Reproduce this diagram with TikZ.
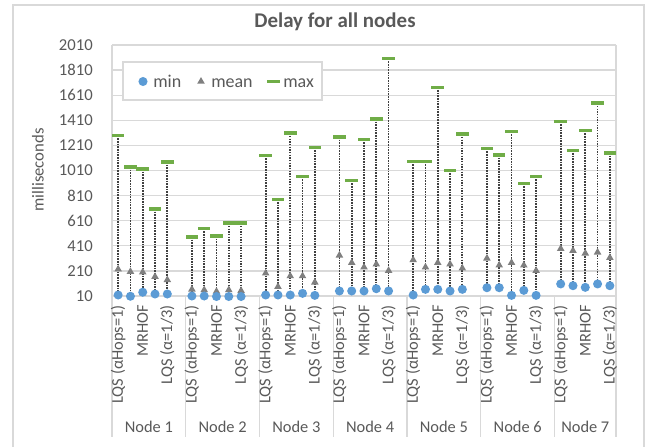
\documentclass[tikz,border=0pt]{standalone}
\usepackage{fontspec}
\setmainfont{Carlito}
\usepackage{tikz}
\usetikzlibrary{shapes.geometric}

\definecolor{gridgray}{HTML}{D9D9D9}
\definecolor{txtgray}{HTML}{595959}
\definecolor{minblue}{HTML}{5B9BD5}
\definecolor{maxgreen}{HTML}{70AD47}
\definecolor{meangray}{HTML}{7F7F7F}
\definecolor{linegray}{HTML}{404040}

\begin{document}
\begin{tikzpicture}[
  x=0.75pt, y=-0.75pt,
  txt/.style={text=txtgray, inner sep=0pt},
  tick/.style={txt, font=\fontsize{12.5}{15}\selectfont, anchor=east},
  cat/.style={txt, font=\fontsize{12.3}{15}\selectfont, rotate=90, anchor=east},
  grp/.style={txt, font=\fontsize{12.3}{15}\selectfont, anchor=base},
  leg/.style={txt, font=\fontsize{13.5}{16}\selectfont, anchor=base west},
  grid/.style={draw=gridgray, line width=1pt},
  minmark/.style={circle, fill=minblue, inner sep=0pt, minimum size=6.8pt},
  meanmark/.style={regular polygon, regular polygon sides=3, fill=meangray, inner sep=0pt, minimum size=6.6pt},
  maxmark/.style={rectangle, fill=maxgreen, inner sep=0pt, minimum width=9.4pt, minimum height=2.6pt},
  hilo/.style={draw=linegray, line width=1.3pt, dash pattern=on 1.2pt off 0.8pt}
]
\useasboundingbox (0,0) rectangle (651,447);

% chart frame and titles
\draw[grid] (13,447) |- (644,5) -- (644,447);
\node[txt, font=\fontsize{15.7}{18}\selectfont\bfseries] (title) at (335,22) {Delay for all nodes};
\node[txt, font=\fontsize{12.5}{15}\selectfont, rotate=90] (ytitle) at (38,170) {milliseconds};

% gridlines and value axis
\foreach \v [count=\k from 0] in {10,210,...,2010} {
  \draw[grid] (112,{296-\k*25.1}) -- (616,{296-\k*25.1});
  \node[tick] (tk\k) at (93,{296-\k*25.1}) {\v};
}
\draw[grid] (112,45) -- (112,296);
\draw[grid] (616,45) -- (616,437);

% category axis
\foreach \b in {0,6,...,36}
  \draw[grid] ({112+\b*12.293},296) -- ({112+\b*12.293},437);
\foreach \g in {0,...,6}
  \foreach \s/\lab in {0/{LQS (αHops=1)},2/{MRHOF},4/{LQS (α=1/3)}}
    \node[cat] (c\g\s) at ({112+(6*\g+\s+0.5)*12.293},305) {\lab};
\foreach \n/\c in {1/3,2/9,3/15,4/21,5/27,6/33,7/38.5}
  \node[grp] (node\n) at ({112+\c*12.293},432) {Node \n};

% legend
\draw[grid, fill=white] (123,62) rectangle (322,100);
\node[minmark] (lgmin) at (143,81.5) {};
\node[leg] (lgmintxt) at (153,87) {min};
\node[meanmark] (lgmean) at (201,81.5) {};
\node[leg] (lgmeantxt) at (211,87) {mean};
\node[maxmark] (lgmax) at (273.5,81.5) {};
\node[leg] (lgmaxtxt) at (283,87) {max};

% min / mean / max per node and objective function
\foreach \lo/\av/\hi [count=\i from 0] in {
  18/223/1288, 8/204/1038, 40/200/1022, 26/164/703, 26/138/1078,
  10/63/480, 10/58/547, 6/46/488, 6/58/590, 6/52/590,
  18/191/1128, 18/84/781, 18/169/1307, 31/169/961, 15/119/1195,
  50/334/1277, 50/275/929, 50/239/1256, 68/263/1421, 50/212/1901,
  18/297/1080, 63/239/1080, 63/275/1673, 50/263/1012, 63/231/1299,
  76/310/1184, 76/255/1134, 15/275/1320, 55/255/905, 15/212/961,
  106/387/1399, 92/371/1171, 79/350/1328, 106/358/1546, 92/315/1150} {
  \pgfmathsetmacro\px{112+(\i+int(\i/5)+0.5)*12.293}
  \coordinate (hi\i) at (\px,{296-(\hi-10)*0.1255});
  \coordinate (lo\i) at (\px,{296-(\lo-10)*0.1255});
  \draw[hilo] (hi\i) -- (lo\i);
  \node[meanmark] (mean\i) at (\px,{296-(\av-10)*0.1255}) {};
  \node[minmark] (min\i) at (lo\i) {};
  \node[maxmark] (max\i) at (hi\i) {};
}
\end{tikzpicture}
\end{document}
